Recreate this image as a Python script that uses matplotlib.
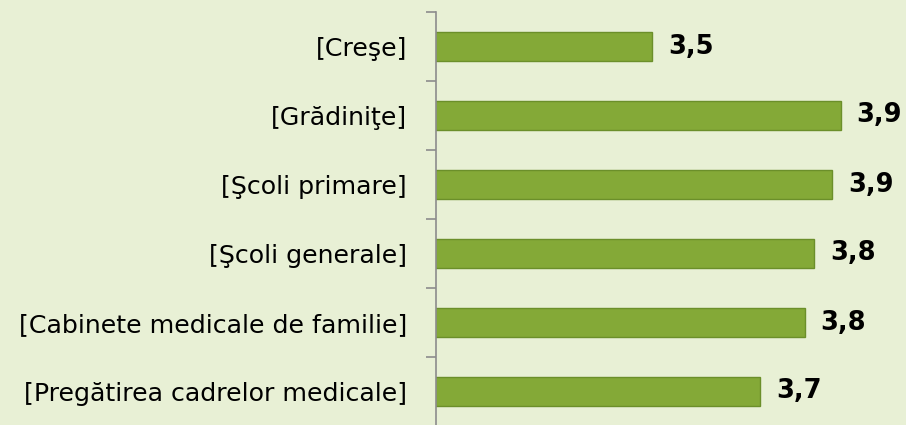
import matplotlib.pyplot as plt
import numpy as np

categorii = ['[Creşe]', '[Grădiniţe]', '[Şcoli primare]', '[Şcoli generale]',
             '[Cabinete medicale de familie]', '[Pregătirea cadrelor medicale]']
valori = [3.48, 3.90, 3.88, 3.84, 3.82, 3.72]

fundal = '#E8F0D5'

fig = plt.figure(figsize=(9.06, 4.25), dpi=100, facecolor=fundal)
ax = fig.add_axes([436/906, -1/425, 450/906, 414/425], facecolor=fundal)

y = np.arange(len(categorii))
# axa incepe la 3, barele pornesc din 0 si sunt taiate la marginea axei
ax.barh(y, valori, height=0.42, color='#84A937', edgecolor='#6B8F2A', linewidth=1)
ax.set_xlim(3.0, 4.0)
ax.set_ylim(len(categorii) - 0.5, -0.5)

for yi, v in zip(y, valori):
    ax.text(v + 0.035, yi, f'{v:.1f}'.replace('.', ','), va='center', ha='left',
            fontsize=18.5, fontweight='bold', color='black')

ax.set_yticks(y)
ax.set_yticklabels(categorii, fontsize=18.2)
ax.tick_params(axis='y', which='major', length=0, pad=21)
ax.set_yticks(np.arange(-0.5, len(categorii)), minor=True)
ax.tick_params(axis='y', which='minor', length=7, color='#8C8C8C', width=1.2)
ax.set_xticks([])

for s in ['top', 'right', 'bottom']:
    ax.spines[s].set_visible(False)
ax.spines['left'].set_color('#8C8C8C')
ax.spines['left'].set_linewidth(1.2)

plt.savefig('out.png', dpi=100, facecolor=fundal)
